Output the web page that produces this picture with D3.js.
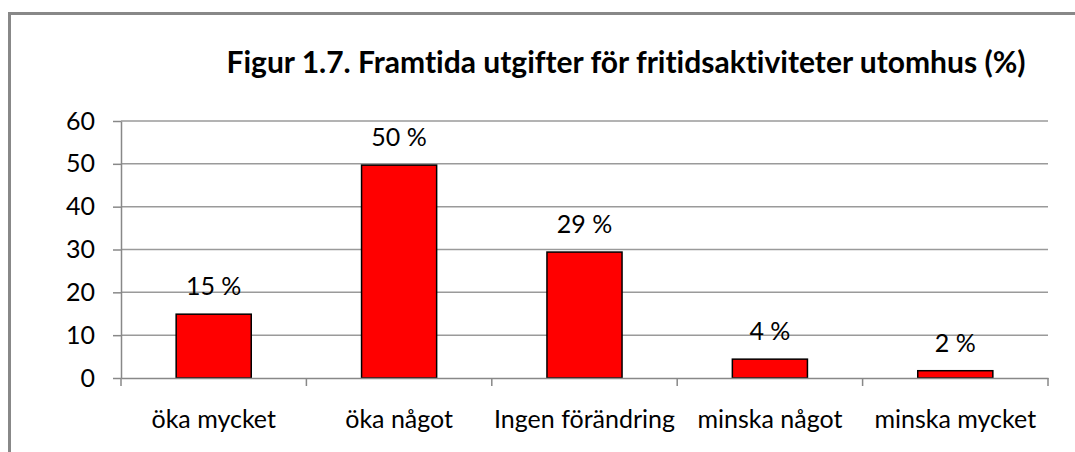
<!DOCTYPE html>
<html><head><meta charset="utf-8">
<script src="https://cdn.jsdelivr.net/npm/d3@7"></script>
<style>html,body{margin:0;padding:0;background:#fff;}svg{display:block;}text{font-variant-ligatures:none;}</style>
</head><body>
<script>
const categories = ["öka mycket", "öka något", "Ingen förändring", "minska något", "minska mycket"];
const values = [14.9, 49.7, 29.4, 4.4, 1.7];
const valueLabels = ["15 %", "50 %", "29 %", "4 %", "2 %"];
const yTicks = [0, 10, 20, 30, 40, 50, 60];
const title = "Figur 1.7. Framtida utgifter för fritidsaktiviteter utomhus (%)";

const W = 1075, H = 452;
const font = "Lato, 'Open Sans', sans-serif";
const fs = 25;
const svg = d3.select("body").append("svg").attr("width", W).attr("height", H);

// frame
svg.append("rect").attr("x", 9.5).attr("y", 13.5).attr("width", W + 20).attr("height", H + 20)
  .attr("fill", "#fff").attr("stroke", "#888").attr("stroke-width", 3);

const m = {left: 121, right: 1048, top: 121, bottom: 378};
const x = d3.scaleBand().domain(categories).range([m.left, m.right]).paddingInner(0.595).paddingOuter(0.2975);
const y = d3.scaleLinear().domain([0, 60]).range([m.bottom, m.top]);

// gridlines
svg.append("g").selectAll("line").data(yTicks.filter(d => d > 0)).join("line")
  .attr("x1", m.left).attr("x2", m.right).attr("y1", d => y(d)).attr("y2", d => y(d))
  .attr("stroke", "#9a9a9a").attr("stroke-width", 1.5);

// y axis
const yAxis = svg.append("g").attr("transform", `translate(${m.left},0)`)
  .call(d3.axisLeft(y).tickValues(yTicks).tickSize(8).tickPadding(18).tickSizeOuter(0));
yAxis.select(".domain").attr("stroke", "#888").attr("stroke-width", 1.5);
yAxis.selectAll(".tick line").attr("stroke", "#888").attr("stroke-width", 1.5);
yAxis.selectAll("text").attr("font-family", font).attr("font-size", fs).attr("fill", "#000");

// bars
svg.append("g").selectAll("rect").data(values).join("rect")
  .attr("x", (d, i) => x(categories[i])).attr("width", x.bandwidth())
  .attr("y", d => y(d)).attr("height", d => y(0) - y(d))
  .attr("fill", "#ff0000").attr("stroke", "#000").attr("stroke-width", 1.5);

// x axis
const xAxis = svg.append("g").attr("transform", `translate(0,${m.bottom})`)
  .call(d3.axisBottom(x).tickSize(0).tickPadding(0));
xAxis.select(".domain").attr("stroke", "#888").attr("stroke-width", 1.5);
xAxis.selectAll("text").attr("font-family", font).attr("font-size", fs).attr("fill", "#000")
  .attr("dy", null).attr("y", 50);
// category separator ticks
const bounds = d3.range(categories.length + 1).map(i => m.left + i * (m.right - m.left) / categories.length);
svg.append("g").selectAll("line").data(bounds).join("line")
  .attr("x1", d => d).attr("x2", d => d).attr("y1", m.bottom).attr("y2", m.bottom + 8)
  .attr("stroke", "#888").attr("stroke-width", 1.5);

// value labels
svg.append("g").selectAll("text").data(values).join("text")
  .attr("x", (d, i) => x(categories[i]) + x.bandwidth() / 2)
  .attr("y", d => y(d) - 19)
  .attr("text-anchor", "middle").attr("font-family", font).attr("font-size", fs).attr("fill", "#000")
  .text((d, i) => valueLabels[i]);

// title
svg.append("text").attr("x", 626).attr("y", 73).attr("text-anchor", "middle")
  .attr("font-family", font).attr("font-weight", "bold").attr("font-size", 30).attr("fill", "#000")
  .text(title);
</script>
</body></html>
